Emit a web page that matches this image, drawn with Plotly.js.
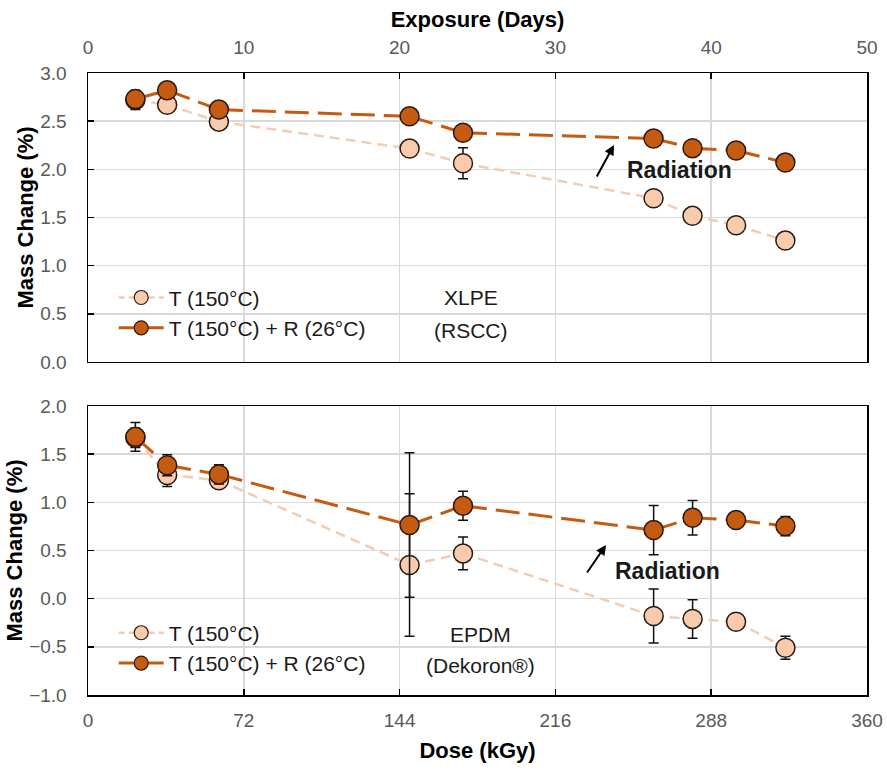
<!DOCTYPE html>
<html>
<head>
<meta charset="utf-8">
<script src="https://cdn.plot.ly/plotly-3.0.1.min.js"></script>
<style>
  html, body { margin: 0; padding: 0; background: #ffffff; }
  #chart { width: 887px; height: 770px; }
</style>
</head>
<body>
<div id="chart"></div>
<script>
// Sampling points: exposure time (days) and matching absorbed dose (kGy)
const exposureDays = [3.04, 5.08, 8.4, 20.64, 24.07, 36.3, 38.8, 41.6, 44.76];
const doseKGy      = [21.9, 36.6, 60.5, 148.6, 173.3, 261.4, 279.4, 299.5, 322.3];

// XLPE (RSCC) mass change, %
const xlpeThermal       = [2.72, 2.67, 2.495, 2.215, 2.063, 1.70, 1.517, 1.42, 1.26];
const xlpeThermalErr    = [0.10, 0.04, 0.04, 0.04, 0.16, 0.04, 0.04, 0.04, 0.04];
const xlpeThermalRad    = [2.73, 2.82, 2.62, 2.55, 2.38, 2.32, 2.22, 2.195, 2.07];
const xlpeThermalRadErr = [0.06, 0.04, 0.04, 0.04, 0.04, 0.04, 0.04, 0.04, 0.04];

// EPDM (Dekoron®) mass change, %
const epdmThermal       = [1.67, 1.284, 1.23, 0.35, 0.47, -0.18, -0.21, -0.24, -0.51];
const epdmThermalErr    = [0.10, 0.12, 0.08, 0.74, 0.17, 0.28, 0.20, 0.04, 0.12];
const epdmThermalRad    = [1.68, 1.385, 1.29, 0.765, 0.965, 0.712, 0.84, 0.816, 0.754];
const epdmThermalRadErr = [0.15, 0.11, 0.10, 0.75, 0.15, 0.255, 0.18, 0.04, 0.10];

const seriesNames = ['T (150°C)', 'T (150°C) + R (26°C)'];

const LIGHT_FILL = '#f8cbad';
const LIGHT_LINE = '#f4cdb0';
const DARK_FILL  = '#c55a11';
const EDGE       = '#2b1a10';
const FONT       = 'Liberation Sans, Arial, sans-serif';

// Each connecting segment is its own path so the dash pattern restarts at every point
function segments(xs, ys, xa, ya, color, width, dash) {
  const out = [];
  for (let i = 0; i < xs.length - 1; i++) {
    out.push({
      x: [xs[i], xs[i + 1]], y: [ys[i], ys[i + 1]],
      xaxis: xa, yaxis: ya, mode: 'lines', showlegend: false, hoverinfo: 'skip',
      line: { color: color, width: width, dash: dash }
    });
  }
  return out;
}

function points(xs, ys, errs, xa, ya, fill) {
  return {
    x: xs, y: ys, xaxis: xa, yaxis: ya, mode: 'markers', showlegend: false,
    marker: { size: 19, color: fill, line: { color: EDGE, width: 1.5 } },
    error_y: { type: 'data', array: errs, visible: true, color: '#111', thickness: 1.5, width: 5 }
  };
}

function legendEntries(xa, ya, legendId) {
  return [
    { x: [null], y: [null], xaxis: xa, yaxis: ya, mode: 'lines+markers', name: seriesNames[0],
      legend: legendId, legendgroup: legendId + 'a',
      line: { color: LIGHT_LINE, width: 2.5, dash: '6px,4px' },
      marker: { size: 14, color: LIGHT_FILL, line: { color: EDGE, width: 1.2 } } },
    { x: [null], y: [null], xaxis: xa, yaxis: ya, mode: 'lines+markers', name: seriesNames[1],
      legend: legendId, legendgroup: legendId + 'b',
      line: { color: DARK_FILL, width: 3 },
      marker: { size: 14, color: DARK_FILL, line: { color: EDGE, width: 1.2 } } }
  ];
}

const traces = [].concat(
  // XLPE panel (top, exposure days)
  segments(exposureDays, xlpeThermal, 'x2', 'y2', LIGHT_LINE, 2.5, '10px,6px'),
  [points(exposureDays, xlpeThermal, xlpeThermalErr, 'x2', 'y2', LIGHT_FILL)],
  segments(exposureDays, xlpeThermalRad, 'x2', 'y2', DARK_FILL, 3, '24px,9px'),
  [points(exposureDays, xlpeThermalRad, xlpeThermalRadErr, 'x2', 'y2', DARK_FILL)],
  legendEntries('x2', 'y2', 'legend'),
  // EPDM panel (bottom, dose)
  segments(doseKGy, epdmThermal, 'x', 'y', LIGHT_LINE, 2.5, '10px,6px'),
  [points(doseKGy, epdmThermal, epdmThermalErr, 'x', 'y', LIGHT_FILL)],
  segments(doseKGy, epdmThermalRad, 'x', 'y', DARK_FILL, 3, '24px,9px'),
  [points(doseKGy, epdmThermalRad, epdmThermalRadErr, 'x', 'y', DARK_FILL)],
  legendEntries('x', 'y', 'legend2')
);

const tickFont  = { family: FONT, size: 19, color: '#595959' };
const titleFont = { family: FONT, size: 22, color: '#000000', weight: 'bold' };

const axisCommon = {
  showline: true, mirror: true, linecolor: '#000000', linewidth: 1.5,
  ticks: 'inside', ticklen: 6, tickwidth: 1.5, tickcolor: '#000000',
  showgrid: true, gridcolor: '#d9d9d9', gridwidth: 1.5, zeroline: false,
  tickfont: tickFont, fixedrange: true
};

const legendCommon = {
  bgcolor: 'rgba(0,0,0,0)', borderwidth: 0, xanchor: 'left', yanchor: 'top',
  font: { family: FONT, size: 21, color: '#1a1a1a' }, tracegroupgap: 0, itemwidth: 45
};

const noteFont = { family: FONT, size: 21, color: '#1a1a1a' };
const boldNote = { family: FONT, size: 23, color: '#1a1a1a', weight: 'bold' };

const layout = {
  width: 887, height: 770,
  margin: { l: 88, r: 20, t: 73, b: 75 },
  paper_bgcolor: '#ffffff', plot_bgcolor: '#ffffff',
  showlegend: true,
  font: { family: FONT },
  xaxis: Object.assign({}, axisCommon, {
    domain: [0, 1], anchor: 'y', side: 'bottom', range: [0, 360], tick0: 0, dtick: 72,
    ticklabelstandoff: 8,
    title: { text: 'Dose (kGy)', font: titleFont, standoff: 12 }
  }),
  yaxis: Object.assign({}, axisCommon, {
    domain: [0, 0.4646], anchor: 'x', range: [-1, 2], dtick: 0.5, tickformat: '.1f',
    ticklabelstandoff: 16,
    title: { text: 'Mass Change (%)', font: titleFont, standoff: 0 }
  }),
  xaxis2: Object.assign({}, axisCommon, {
    domain: [0, 1], anchor: 'y2', side: 'top', range: [0, 50], tick0: 0, dtick: 10,
    ticklabelstandoff: 10,
    title: { text: 'Exposure (Days)', font: titleFont, standoff: 3 }
  }),
  yaxis2: Object.assign({}, axisCommon, {
    domain: [0.5354, 1], anchor: 'x2', range: [0, 3], dtick: 0.5, tickformat: '.1f',
    ticklabelstandoff: 16,
    title: { text: 'Mass Change (%)', font: titleFont, standoff: 0 }
  }),
  legend: Object.assign({}, legendCommon, { x: 0.033, y: 0.6715 }),
  legend2: Object.assign({}, legendCommon, { x: 0.033, y: 0.1325 }),
  annotations: [
    { xref: 'x2', yref: 'y2', x: 24.6, y: 0.666, text: 'XLPE', showarrow: false, font: noteFont },
    { xref: 'x2', yref: 'y2', x: 24.6, y: 0.324, text: '(RSCC)', showarrow: false, font: noteFont },
    { xref: 'x2', yref: 'y2', x: 37.94, y: 1.994, text: 'Radiation', showarrow: false, font: boldNote },
    { xref: 'x2', yref: 'y2', x: 33.76, y: 2.253, ax: -18, ay: 33, text: '', showarrow: true,
      arrowhead: 2, arrowsize: 1, arrowwidth: 2, arrowcolor: '#000000' },
    { xref: 'x', yref: 'y', x: 181.6, y: -0.37, text: 'EPDM', showarrow: false, font: noteFont },
    { xref: 'x', yref: 'y', x: 181.6, y: -0.69, text: '(Dekoron®)', showarrow: false, font: noteFont },
    { xref: 'x', yref: 'y', x: 268, y: 0.287, text: 'Radiation', showarrow: false, font: boldNote },
    { xref: 'x', yref: 'y', x: 239.4, y: 0.557, ax: -20, ay: 29, text: '', showarrow: true,
      arrowhead: 2, arrowsize: 1, arrowwidth: 2, arrowcolor: '#000000' }
  ]
};

Plotly.newPlot('chart', traces, layout, { displayModeBar: false, staticPlot: true });
</script>
</body>
</html>
